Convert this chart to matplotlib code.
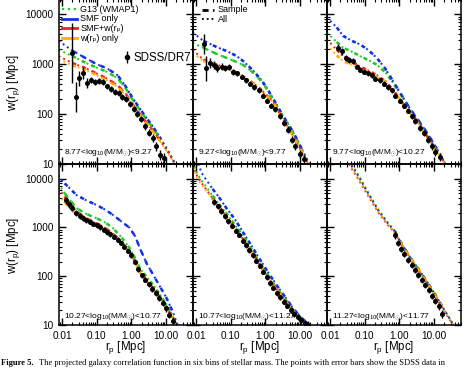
import numpy as np
import matplotlib
matplotlib.use("Agg")
import matplotlib.pyplot as plt
from matplotlib.ticker import FixedLocator, FixedFormatter, NullFormatter, LogLocator

plt.rcParams['font.family'] = ['Liberation Sans', 'DejaVu Sans']
plt.rcParams['mathtext.fontset'] = 'custom'
plt.rcParams['mathtext.rm'] = 'Liberation Sans'
plt.rcParams['mathtext.it'] = 'Liberation Sans:italic'

# ─── Data ──────────────────────────────────────────────────────────────────────

mass_bins = [
    r"8.77<log$_{10}$(M/M$_{\odot}$)<9.27",
    r"9.27<log$_{10}$(M/M$_{\odot}$)<9.77",
    r"9.77<log$_{10}$(M/M$_{\odot}$)<10.27",
    r"10.27<log$_{10}$(M/M$_{\odot}$)<10.77",
    r"10.77<log$_{10}$(M/M$_{\odot}$)<11.27",
    r"11.27<log$_{10}$(M/M$_{\odot}$)<11.77",
]

# panel 1
r_mod_1  = [0.008, 0.02, 0.05, 0.1, 0.2, 0.4, 0.7, 1.0, 1.5, 2.5, 4.0, 7.0, 12, 20]
g13_1    = [1950, 1450, 1050, 850, 700, 520, 320, 210, 140, 85, 55, 31, 17, 9]
smf_1    = [2950, 1860, 1300, 1000, 820, 600, 350, 230, 150, 90, 58, 32, 17, 9]
smfw_1   = [1450, 1050, 820, 650, 510, 380, 250, 170, 115, 72, 48, 28, 16, 8.5]
wrp_1    = [1250, 950, 750, 600, 470, 350, 230, 160, 108, 68, 46, 27, 15.5, 8.5]
r_dat_1  = [0.019, 0.025, 0.031, 0.040, 0.052, 0.068, 0.088, 0.115, 0.15, 0.198, 0.26, 0.34, 0.44,
            0.55, 0.72, 0.93, 1.17, 1.5, 1.95, 2.5, 3.2, 4.2, 5.3, 6.9, 8.5]
w_dat_1  = [1700, 218, 515, 650, 410, 480, 440, 450, 440, 355, 310, 275, 265,
            215, 198, 157, 124, 98, 77, 56, 42, 33, 22, 15, 13]
e_dat_1  = [0.6, 0.3, 0.15, 0.12, 0.1, 0.07, 0.06, 0.06, 0.06, 0.06, 0.06, 0.06, 0.06,
            0.06, 0.06, 0.06, 0.06, 0.06, 0.06, 0.07, 0.07, 0.08, 0.09, 0.1, 0.1]

# panel 2
r_mod_2  = [0.008, 0.0163, 0.04, 0.078, 0.15, 0.23, 0.4, 0.71, 1.0, 1.7, 3.0, 6.5, 12, 20]
g13_2    = [2700, 2140, 1600, 1330, 1100, 960, 720, 480, 350, 190, 95, 40, 17, 8.5]
smf_2    = [4350, 2950, 2200, 1830, 1450, 1150, 800, 515, 370, 200, 100, 42, 18, 9]
smfw_2   = [1960, 1230, 980, 830, 680, 560, 440, 320, 250, 175, 85, 35, 16, 8]
wrp_2    = [1700, 1150, 950, 800, 660, 545, 430, 310, 245, 170, 83, 35, 16, 8]
r_dat_2  = [0.0165, 0.0195, 0.0255, 0.0333, 0.0417, 0.0556, 0.069, 0.0906, 0.12, 0.157, 0.211,
            0.281, 0.367, 0.48, 0.64, 0.835, 1.12, 1.46, 1.95, 2.6, 3.4, 4.4, 5.9, 7.4, 9.9, 12.9]
w_dat_2  = [2500, 830, 1050, 966, 828, 895, 828, 895, 710, 652, 557,
            475, 405, 346, 295, 233, 184, 145, 124, 90, 66, 48, 30, 22, 15.8, 12.5]
e_dat_2  = [0.2, 0.25, 0.1, 0.08, 0.08, 0.07, 0.06, 0.06, 0.06, 0.05, 0.05,
            0.05, 0.05, 0.05, 0.05, 0.05, 0.05, 0.05, 0.05, 0.06, 0.06, 0.07, 0.07, 0.08, 0.08, 0.08]

# panel 3
r_mod_3  = [0.008, 0.0156, 0.024, 0.045, 0.074, 0.13, 0.225, 0.4, 0.68, 1.2, 2.08, 3.5, 6.4, 12, 19, 25]
g13_3    = [4350, 2800, 2140, 1750, 1450, 1200, 970, 680, 405, 220, 118, 72, 40, 19.5, 11, 8]
smf_3    = [8900, 5500, 3700, 2900, 2500, 1900, 1330, 800, 440, 230, 124, 75, 41, 20, 11.5, 8]
smfw_3   = [3170, 1960, 1450, 1100, 890, 740, 600, 450, 295, 170, 107, 67, 35, 18, 11, 8]
wrp_3    = [2500, 1500, 1150, 950, 830, 700, 560, 430, 285, 165, 104, 65, 34, 17.5, 10.5, 7.5]
r_dat_3  = [0.0174, 0.0218, 0.0291, 0.0363, 0.0455, 0.0594, 0.0741, 0.0968, 0.129, 0.161, 0.201,
            0.268, 0.351, 0.458, 0.613, 0.766, 1.02, 1.33, 1.74, 2.33, 2.91, 3.88, 5.07, 6.6,
            8.9, 11.0, 14.7]
w_dat_3  = [2140, 1830, 1330, 1230, 1140, 896, 764, 708, 652, 602, 514,
            475, 405, 346, 295, 233, 184, 145, 114, 90, 71, 52, 41, 30,
            22, 17, 13.5]
e_dat_3  = [0.07, 0.07, 0.06, 0.06, 0.06, 0.05, 0.05, 0.05, 0.05, 0.05, 0.05,
            0.05, 0.05, 0.05, 0.05, 0.05, 0.05, 0.05, 0.05, 0.05, 0.06, 0.06, 0.06, 0.07,
            0.07, 0.08, 0.08]

# panel 4
r_mod_4  = [0.0078, 0.012, 0.026, 0.05, 0.098, 0.18, 0.29, 0.5, 0.9, 1.3, 1.76, 2.8, 4.3, 7.0, 10.5, 15, 20, 25]
g13_4    = [8100, 5000, 2500, 1900, 1550, 1250, 980, 650, 375, 230, 146, 95, 66, 40, 26, 16, 10, 7.5]
smf_4    = [11500, 8000, 4650, 3600, 2900, 2300, 1820, 1350, 980, 650, 375, 180, 106, 58, 35, 20, 11.7, 8]
smfw_4   = [6400, 4200, 2140, 1550, 1230, 970, 760, 520, 320, 190, 124, 80, 57, 35, 22, 15, 10, 7.5]
wrp_4    = [4650, 3300, 1820, 1400, 1150, 920, 720, 500, 310, 185, 120, 78, 55, 34, 21.5, 14.5, 9.5, 7]
r_dat_4  = [0.013, 0.016, 0.02, 0.025, 0.032, 0.04, 0.05, 0.063, 0.08, 0.1, 0.126, 0.16, 0.2, 0.25,
            0.32, 0.4, 0.5, 0.63, 0.8, 1.0, 1.26, 1.6, 2.0, 2.5, 3.2, 4.0, 5.0, 6.3, 8.0, 10, 12.6, 16]
w_dat_4  = [3600, 3000, 2500, 2000, 1750, 1550, 1400, 1300, 1200, 1100, 1000, 900, 800, 720,
            640, 560, 480, 400, 330, 270, 200, 140, 105, 85, 68, 55, 45, 36, 28, 22, 16, 12]
e_dat_4  = [0.07, 0.07, 0.06, 0.06, 0.06, 0.05, 0.05, 0.05, 0.05, 0.05, 0.05, 0.05, 0.05, 0.05,
            0.05, 0.05, 0.05, 0.05, 0.05, 0.05, 0.05, 0.05, 0.05, 0.05, 0.05, 0.06, 0.06, 0.06, 0.06, 0.07, 0.07, 0.08]

# panel 5
r_mod_5  = [0.008, 0.0113, 0.0157, 0.03, 0.048, 0.075, 0.13, 0.22, 0.4, 0.66, 1.2, 2.1, 3.5, 6.3, 11, 19, 25]
g13_5    = [22000, 12000, 8500, 4500, 2900, 1950, 1150, 700, 360, 200, 105, 58, 36, 20.5, 13.5, 9.8, 7.8]
smf_5    = [40000, 20000, 12000, 6200, 4000, 2500, 1500, 830, 420, 235, 120, 66, 40, 22, 14, 10, 8]
smfw_5   = [19000, 10500, 7500, 4000, 2600, 1650, 1000, 600, 320, 180, 95, 54, 34, 20, 13, 9.7, 7.8]
wrp_5    = [17000, 9500, 7000, 3800, 2450, 1600, 970, 590, 310, 178, 94, 53, 33, 19.5, 12.8, 9.5, 7.6]
r_dat_5  = [0.034, 0.043, 0.054, 0.068, 0.086, 0.11, 0.14, 0.17, 0.22, 0.27, 0.34, 0.43, 0.54, 0.68,
            0.86, 1.1, 1.4, 1.7, 2.2, 2.7, 3.4, 4.3, 5.4, 6.8, 8.6, 11, 14, 17]
w_dat_5  = [3300, 2700, 2200, 1700, 1350, 1080, 850, 700, 540, 430, 340, 270, 210, 165,
            125, 95, 72, 58, 45, 37, 30, 25, 20.5, 17, 14.5, 12.5, 11, 10.2]
e_dat_5  = [0.06, 0.06, 0.06, 0.05, 0.05, 0.05, 0.05, 0.05, 0.05, 0.05, 0.05, 0.05, 0.05, 0.05,
            0.05, 0.05, 0.05, 0.05, 0.05, 0.05, 0.05, 0.05, 0.06, 0.06, 0.06, 0.07, 0.07, 0.08]

# panel 6
r_mod_6  = [0.035, 0.07, 0.13, 0.25, 0.45, 0.74, 1.0, 2.0, 3.5, 6.1, 10, 18.5, 28, 37]
g13_6    = [24000, 11000, 5000, 2300, 1300, 850, 560, 250, 140, 78, 45, 22, 14, 10]
smf_6    = [23000, 10500, 4800, 2200, 1250, 830, 550, 248, 142, 80, 46, 22, 13.5, 9.5]
smfw_6   = [20000, 9000, 4300, 2000, 1150, 780, 530, 240, 136, 76, 43, 21, 13, 9.5]
wrp_6    = [21000, 9500, 4500, 2100, 1200, 800, 540, 244, 138, 77, 44, 21.5, 13.5, 9.5]
r_dat_6  = [0.74, 0.9, 1.13, 1.4, 1.8, 2.25, 2.8, 3.5, 4.4, 5.6, 7.0, 8.8, 11, 14, 17]
w_dat_6  = [700, 480, 360, 290, 215, 170, 135, 108, 85, 66, 52, 40, 31, 24, 17]
e_dat_6  = [0.08, 0.07, 0.06, 0.06, 0.06, 0.06, 0.06, 0.06, 0.06, 0.06, 0.06, 0.06, 0.07, 0.07, 0.08]

model_labels = ["G13 (WMAP1)", "SMF only", "SMF+w(r\u209a)", "w(r\u209a) only"]
model_colors = ["#22c822", "#1530e0", "#ee2222", "#ffb000"]

x_ticks  = [0.01, 0.1, 1.0, 10.0]
x_labels = ["0.01", "0.10", "1.00", "10.00"]
y_ticks  = [10, 100, 1000, 10000]
y_labels = ["10", "100", "1000", "10000"]

panels = [
    (r_mod_1, [g13_1, smf_1, smfw_1, wrp_1], r_dat_1, w_dat_1, e_dat_1),
    (r_mod_2, [g13_2, smf_2, smfw_2, wrp_2], r_dat_2, w_dat_2, e_dat_2),
    (r_mod_3, [g13_3, smf_3, smfw_3, wrp_3], r_dat_3, w_dat_3, e_dat_3),
    (r_mod_4, [g13_4, smf_4, smfw_4, wrp_4], r_dat_4, w_dat_4, e_dat_4),
    (r_mod_5, [g13_5, smf_5, smfw_5, wrp_5], r_dat_5, w_dat_5, e_dat_5),
    (r_mod_6, [g13_6, smf_6, smfw_6, wrp_6], r_dat_6, w_dat_6, e_dat_6),
]

# ─── Figure ────────────────────────────────────────────────────────────────────

W, H = 474, 368
fig = plt.figure(figsize=(W / 100, H / 100), dpi=100)

col_left = [59, 193, 327]
col_w = 134
row_top = [-1, 163.5]
row_bot = [163.5, 325]

axes = []
for i, (r_mod, models, r_dat, w_dat, e_dat) in enumerate(panels):
    row, col = divmod(i, 3)
    x0 = col_left[col] / W
    y0 = 1 - row_bot[row] / H
    h = (row_bot[row] - row_top[row]) / H
    ax = fig.add_axes([x0, y0, col_w / W, h])
    ax.patch.set_visible(False)
    axes.append(ax)

    r_mod = np.array(r_mod)
    r_dat = np.array(r_dat)
    w_dat = np.array(w_dat)
    e_dat = np.array(e_dat)
    in_sample = (r_mod >= r_dat.min() * 0.8) & (r_mod <= r_dat.max() * 1.2)

    for w_mod, c in zip(models, model_colors):
        w_mod = np.array(w_mod)
        ax.plot(r_mod, w_mod, ls=":", color=c, lw=1.4, zorder=2)
        ax.plot(r_mod[in_sample], w_mod[in_sample], ls=(0, (1.6, 2.6)), color=c, lw=1.8, zorder=3)

    lo = w_dat - w_dat / 10 ** e_dat
    hi = w_dat * 10 ** e_dat - w_dat
    ax.errorbar(r_dat, w_dat, yerr=[lo, hi], fmt="o", color="k", ms=2.6,
                elinewidth=1.0, capsize=0, zorder=4)

    ax.set_xscale("log")
    ax.set_yscale("log")
    ax.set_xlim(0.0082, 60)
    ax.set_ylim(10, 2.05e4)

    ax.xaxis.set_major_locator(FixedLocator(x_ticks))
    ax.yaxis.set_major_locator(FixedLocator(y_ticks))
    ax.xaxis.set_minor_locator(LogLocator(base=10, subs=np.arange(2, 10), numticks=20))
    ax.yaxis.set_minor_locator(LogLocator(base=10, subs=np.arange(2, 10), numticks=20))
    ax.xaxis.set_minor_formatter(NullFormatter())
    ax.yaxis.set_minor_formatter(NullFormatter())
    if row == 1:
        ax.xaxis.set_major_formatter(FixedFormatter(x_labels))
    else:
        ax.xaxis.set_major_formatter(NullFormatter())
    if col == 0:
        ax.yaxis.set_major_formatter(FixedFormatter(y_labels))
    else:
        ax.yaxis.set_major_formatter(NullFormatter())

    ax.tick_params(which="both", direction="in", top=True, right=True, labelsize=7.2, pad=4)
    ax.tick_params(which="major", length=5, width=1.0)
    ax.tick_params(which="minor", length=2.5, width=0.8)
    for s in ax.spines.values():
        s.set_linewidth(1.1)

    ylab = 0.064 if row == 0 else 0.052
    ax.text(0.035, ylab, mass_bins[i], transform=ax.transAxes, fontsize=6.0,
            ha="left", va="center")

# legend, panel 1
ax = axes[0]
for k, (lab, c) in enumerate(zip(model_labels, model_colors)):
    yy = 1 - (10.0 + 9.7 * k) / 164.5
    ls = ":" if k == 0 else "-"
    ax.plot([0.025, 0.135], [yy, yy], transform=ax.transAxes, color=c, ls=ls,
            lw=1.6 if k == 0 else 2.0, clip_on=False)
    ax.text(0.16, yy, lab, transform=ax.transAxes, fontsize=6.5, va="center", ha="left")

# SDSS/DR7 marker
ax.errorbar([0.507], [0.647], yerr=[[0.035], [0.035]], fmt="o", color="k", ms=3,
            elinewidth=1.0, transform=ax.transAxes, clip_on=False)
fig.text(134 / W, 1 - 58 / H, "SDSS/DR7", fontsize=8.3, va="center", ha="left")

# legend, panel 2
ax = axes[1]
for k, (lab, ls) in enumerate([("Sample", (0, (2.2, 1.6))), ("All", ":")]):
    yy = 1 - (10.5 + 9.7 * k) / 164.5
    ax.plot([0.065, 0.16], [yy, yy], transform=ax.transAxes, color="k", ls=ls,
            lw=2.0 if k == 0 else 1.3, clip_on=False)
    ax.text(0.185, yy, lab, transform=ax.transAxes, fontsize=6.5, va="center", ha="left")

# axis labels
for col in range(3):
    xc = (col_left[col] + col_w / 2) / W
    fig.text(xc, 1 - 348 / H, r"r$_\mathrm{p}$ [Mpc]", fontsize=8.3, ha="center", va="center")
for yc in (82, 245):
    fig.text(14 / W, 1 - yc / H, r"w(r$_\mathrm{p}$) [Mpc]", fontsize=8.3, rotation=90,
             ha="center", va="center")

# caption
fig.text(1 / W, 1 - 363 / H, "Figure 5.", fontsize=6.1, family="Liberation Serif",
         weight="bold", ha="left", va="center")
fig.text(39 / W, 1 - 363 / H,
         "The projected galaxy correlation function in six bins of stellar mass. "
         "The points with error bars show the SDSS data in",
         fontsize=6.1, family="Liberation Serif", ha="left", va="center")

fig.savefig("out.png", dpi=100)
